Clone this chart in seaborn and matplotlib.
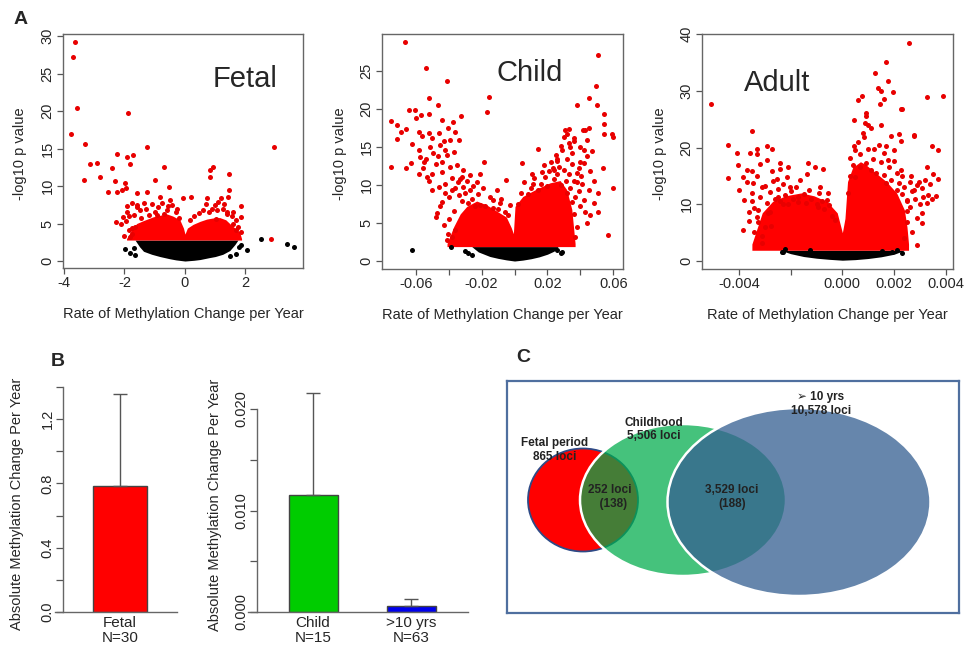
import matplotlib
matplotlib.use("Agg")
import matplotlib.pyplot as plt
import seaborn as sns
import numpy as np
import pandas as pd
from matplotlib.patches import Ellipse

sns.set_style("white")
plt.rcParams['font.family'] = ['Liberation Sans', 'DejaVu Sans']

# ---------------- DATA ----------------
# Panel A - Fetal
fetal_red_x = [-3.64, -3.71, -3.58, -3.76, -1.89, -3.29, -1.26, 2.95, -2.25, -1.92, -1.71, -3.14, -2.91, -1.80,
               -2.40, -0.68, 0.93, 0.83, -2.80, 0.83, 1.44, -3.32, -2.31, -0.99, -1.99, -0.53, 1.45, -2.53, -2.25,
               -2.07, -1.94, -1.59, -1.26, 0.20, -0.08, 1.43, 1.85, 0.72, 1.20, 1.00, 1.86, 1.85, 2.83, -2.28, -2.10,
               -1.76, -1.82, -1.76, -1.93, -1.59, -1.37, -0.83, -0.44, -0.60, -0.93, 1.03, 1.38, 1.59, 1.70,
               -1.90, -1.95, -1.85, -1.70, -1.60, -1.50, -1.45, -1.30, -1.20, -1.10, -1.00, -0.90, -0.75, -0.70,
               -0.55, -0.50, -0.30, -0.25, -0.20, 0.15, 0.30, 0.45, 0.60, 0.70, 0.80, 0.90, 1.05, 1.10, 1.25, 1.30,
               1.40, 1.55, 1.60, 1.70, 1.75, -1.75, -1.85, -2.00, -1.65, -2.05]
fetal_red_y = [29.2, 27.2, 20.4, 17.0, 19.7, 15.6, 15.2, 15.2, 14.3, 13.9, 14.1, 13.0, 13.1, 12.9,
               12.4, 12.6, 12.5, 12.1, 11.2, 11.2, 11.6, 10.8, 10.7, 10.8, 10.4, 9.9, 9.5, 9.2, 9.2,
               9.5, 9.7, 9.1, 9.2, 8.6, 8.4, 8.6, 7.4, 8.4, 8.4, 7.5, 5.9, 3.9, 3.0, 5.16, 5.0,
               4.35, 3.25, 7.7, 6.6, 7.2, 7.8, 8.6, 7.5, 6.8, 6.1, 5.6, 6.3, 5.0, 4.1,
               7.3, 5.4, 6.0, 6.2, 7.5, 6.8, 5.8, 7.0, 6.2, 7.6, 6.6, 7.2, 7.8, 6.3,
               7.3, 8.2, 6.5, 7.0, 5.8, 5.5, 6.0, 6.4, 6.8, 7.6, 6.5, 7.0, 6.8, 7.9, 6.9, 7.6,
               6.6, 6.0, 6.6, 5.5, 4.6, 3.6, 4.2, 3.4, 4.6, 5.9]
fetal_black_x = [2.51, 3.36, 3.61, -1.99, 2.04, -1.80, -1.70, -1.65, 1.80, 1.70, 1.50, 1.85]
fetal_black_y = [2.93, 2.27, 1.83, 1.64, 1.50, 1.10, 1.80, 0.80, 1.90, 1.00, 0.70, 2.20]
fetal_core_x = [-1.93, -1.75, -1.6, -1.37, -1.05, -0.83, -0.61, -0.4, -0.17, -0.05, 0.0, 0.08, 0.27, 0.5,
                0.72, 1.0, 1.15, 1.35, 1.48, 1.65, 1.81, 1.87]
fetal_core_top = [3.0, 4.2, 5.0, 5.4, 5.9, 6.1, 6.3, 6.0, 5.5, 4.4, 3.6, 4.4, 4.9, 5.3, 5.6, 5.8, 5.8, 5.5,
                  5.0, 4.4, 3.8, 3.0]
fetal_black_core_x = [-1.65, -1.5, -1.37, -1.1, -0.83, -0.5, -0.3, 0.0, 0.3, 0.5, 0.8, 1.0, 1.25, 1.48, 1.65, 1.75]
fetal_black_core_bottom = [2.8, 1.9, 1.3, 0.9, 0.6, 0.3, 0.15, 0.0, 0.1, 0.2, 0.45, 0.6, 0.9, 1.4, 2.2, 2.8]
fetal_threshold = 2.8

# Panel A - Child
child_red_x = [-0.0665, -0.0537, -0.0408, 0.0505, 0.0495, -0.0153, -0.0168, -0.0517, -0.0466, -0.0639, -0.0604,
               0.0452, 0.0499, 0.0378, -0.0325, -0.0568, -0.0519, -0.0750, -0.0715, -0.0660, -0.0371, 0.0545,
               0.0545, 0.0594, 0.0600, 0.0545, -0.0715, -0.0580, -0.0520, -0.0404, -0.0394, -0.0750, -0.0630,
               0.0141, 0.0044, 0.0540, 0.0600, 0.0509, 0.0566, -0.0503, -0.0473, -0.0477, -0.0413, -0.0403,
               -0.0362, -0.0210, -0.0186, -0.0052, 0.0104, 0.0164, 0.0236, 0.0260, 0.0418, 0.0438, 0.0398,
               0.0348, 0.0307, 0.0317, 0.0332, 0.0364, 0.0394, 0.0423, 0.0402, -0.0513, -0.0493, -0.0463,
               -0.0453, -0.0443, -0.0422, -0.0393, -0.0578, -0.0553, -0.0533, -0.0499, -0.0574, -0.0547,
               -0.0345, -0.0321, -0.0442, -0.0422, -0.0382, -0.0311, -0.0270, -0.0230, -0.0109, -0.0089,
               -0.0129, 0.0114, 0.0185, 0.0317, 0.0378, 0.0450, 0.0480, 0.0509, 0.0438, 0.0459,
               -0.052, -0.048, -0.046, -0.044, -0.042, -0.041, -0.040, -0.038, -0.037, -0.036, -0.035, -0.034,
               -0.033, -0.032, -0.031, -0.030, -0.029, -0.028, -0.027, -0.026, -0.025, -0.024, -0.022, -0.021,
               -0.019, -0.018, -0.015, -0.013, -0.010, -0.008, -0.006, -0.004, -0.003, -0.058, -0.056, -0.054,
               -0.050, -0.046, -0.044, -0.043, -0.036, -0.034, -0.062, -0.060, -0.066, -0.069, -0.045, -0.043,
               -0.040, -0.038, -0.037,
               0.002, 0.004, 0.006, 0.008, 0.010, 0.012, 0.014, 0.016, 0.018, 0.020, 0.021, 0.022, 0.024, 0.025,
               0.026, 0.027, 0.028, 0.029, 0.030, 0.031, 0.032, 0.033, 0.034, 0.035, 0.036, 0.037, 0.038, 0.039,
               0.040, 0.041, 0.042, 0.043, 0.044, 0.046, 0.047, 0.048, 0.038, 0.036, 0.037, 0.035, 0.040, 0.042,
               0.036, 0.034, 0.030, 0.028, 0.026, 0.024, 0.045, 0.043, 0.033]
child_red_y = [28.8, 25.4, 23.7, 27.2, 23.0, 21.6, 19.6, 21.5, 20.5, 19.9, 19.9,
               21.5, 20.6, 20.6, 19.1, 19.2, 19.4, 18.4, 17.9, 17.4, 18.3, 19.3,
               18.0, 16.7, 16.4, 16.7, 16.1, 17.0, 16.9, 17.5, 15.9, 12.4, 12.9,
               14.8, 12.85, 12.2, 9.65, 9.0, 3.4, 9.3, 6.3, 5.8, 2.75, 3.5,
               4.1, 11.5, 13.1, 10.7, 11.5, 11.7, 12.3, 13.4, 17.2, 15.9, 15.0,
               14.2, 17.2, 16.7, 15.6, 15.8, 12.3, 12.9, 11.2, 15.0, 14.2, 13.8,
               15.3, 13.1, 14.6, 12.4, 11.5, 12.2, 11.1, 11.5, 13.7, 13.0,
               10.4, 11.1, 7.8, 8.9, 9.3, 9.8, 9.3, 10.4, 9.3, 7.6,
               8.0, 10.2, 11.1, 9.0, 10.4, 9.3, 7.6, 6.5, 5.0, 6.1,
               10.5, 12.8, 9.8, 11.7, 10.2, 13.9, 8.4, 11.0, 14.4, 9.6, 12.6, 8.7,
               10.8, 7.9, 12.0, 9.0, 10.5, 7.6, 11.3, 8.2, 9.9, 7.3, 8.8, 7.4,
               9.6, 7.2, 8.4, 7.0, 6.8, 8.2, 6.5, 6.0, 7.4, 14.6, 16.5, 13.4,
               16.2, 16.8, 18.6, 15.8, 17.0, 16.0, 15.4, 18.8, 12.2, 17.0, 7.3, 4.8,
               5.6, 3.2, 6.6,
               7.5, 9.0, 10.4, 8.8, 9.6, 11.0, 9.4, 10.2, 12.6, 9.9, 11.8, 13.0, 10.8, 14.0,
               11.5, 12.4, 10.0, 14.6, 12.0, 10.5, 13.5, 11.4, 9.6, 12.8, 10.6, 8.4, 11.6, 9.2,
               7.2, 10.1, 8.0, 6.5, 13.8, 11.8, 14.5, 10.6, 4.5, 6.2, 3.1, 7.8, 13.0, 14.6,
               16.2, 15.0, 16.4, 15.2, 13.2, 12.0, 17.5, 17.2, 17.4]
child_black_x = [-0.0624, -0.0386, 0.0287, -0.030, -0.028, 0.028, 0.026, -0.026]
child_black_y = [1.45, 1.90, 1.20, 1.30, 1.00, 1.10, 1.50, 0.80]
child_core_x = [-0.041, -0.037, -0.033, -0.029, -0.023, -0.017, -0.011, -0.005, -0.002, -0.0007, 0.0003, 0.005,
                0.0135, 0.0216, 0.0277, 0.0317, 0.0348, 0.0368]
child_core_top = [2.3, 4.5, 6.2, 7.2, 7.9, 7.4, 6.6, 5.8, 4.4, 3.6, 7.2, 8.5, 9.5, 10.3, 10.6, 9.4, 6.8, 2.3]
child_black_core_x = [-0.026, -0.022, -0.015, -0.010, -0.005, 0.0, 0.005, 0.010, 0.015, 0.020, 0.024, 0.0265]
child_black_core_bottom = [1.9, 1.2, 0.6, 0.35, 0.15, 0.0, 0.12, 0.3, 0.55, 0.9, 1.3, 1.9]
child_threshold = 1.9

# Panel A - Adult
adult_red_x = [0.00256, 0.00169, 0.00127, 0.00177, 0.00138, 0.00151, 0.00194, 0.00075, 0.00327, 0.00389, -0.00508,
               0.00062, 0.00162, 0.00145, 0.00226, 0.00232, 0.00091, 0.00045, 0.00087, 0.00100, 0.00220, 0.00276,
               -0.00351, -0.00441, -0.00331, -0.00293, -0.00274, -0.00409, -0.00357, 0.00346, 0.00369, -0.00403,
               -0.00441, -0.00383, -0.00351, -0.00319, -0.00241, -0.00209, -0.00132, -0.00106, -0.00074, 0.00277,
               0.00327, 0.00369, 0.00361, 0.00346, 0.00311, 0.00327, 0.00307, 0.00288, 0.00249, -0.00383,
               -0.00325, -0.00309, -0.00276, -0.00287, -0.00325, -0.00351, -0.00344, -0.00312, -0.00274,
               -0.00254, -0.00215, -0.00202, -0.00164, -0.00138, -0.00086, -0.00054, -0.00060, -0.00093,
               -0.00171, -0.00248, -0.00228, 0.00226, 0.00177, 0.00226, 0.00264, 0.00297, 0.00276, 0.00250,
               0.00084, 0.00122, 0.00168, 0.00200, 0.00045,
               -0.0040, -0.0038, -0.0037, -0.0035, -0.0034, -0.0033, -0.0032, -0.0030, -0.0029, -0.0028, -0.0027,
               -0.0026, -0.0025, -0.0024, -0.0023, -0.0022, -0.0021, -0.0020, -0.0019, -0.0018, -0.0017, -0.0015,
               -0.0014, -0.0013, -0.0012, -0.0010, -0.0009, -0.0008, -0.0007, -0.0005, -0.0004, -0.0003, -0.0036,
               -0.0034, -0.0033, -0.0031, -0.0030, -0.0036, -0.0028, -0.0024, -0.0029, -0.0033, -0.0037,
               0.0002, 0.0003, 0.0004, 0.0005, 0.0005, 0.0006, 0.0007, 0.0007, 0.0008, 0.0009, 0.0010, 0.0011,
               0.0011, 0.0012, 0.0013, 0.0014, 0.0015, 0.0016, 0.0016, 0.0017, 0.0018, 0.0019, 0.0020, 0.0021,
               0.0021, 0.0022, 0.0023, 0.0023, 0.0024, 0.0025, 0.0026, 0.0026, 0.0027, 0.0028, 0.0029, 0.0030,
               0.0031, 0.0032, 0.0033, 0.0034, 0.0031, 0.0029, 0.0027, 0.0025, 0.0024, 0.0019, 0.0015, 0.0009,
               0.0003, 0.0035]
adult_red_y = [38.5, 35.1, 33.2, 31.7, 30.4, 29.9, 29.8, 29.0, 28.9, 29.0, 27.7,
               28.4, 28.5, 27.7, 26.8, 26.7, 26.1, 24.8, 24.3, 24.0, 22.4, 22.2,
               22.9, 20.4, 19.7, 20.2, 19.8, 19.1, 19.1, 20.3, 19.5, 16.9,
               14.6, 14.8, 15.8, 17.1, 17.2, 16.5, 17.2, 16.5, 16.2, 22.1,
               16.6, 14.4, 11.5, 11.0, 11.3, 10.2, 6.75, 2.8, 6.9, 5.46,
               6.9, 3.1, 6.2, 8.5, 9.0, 10.5, 13.7, 13.1, 15.9,
               14.5, 14.8, 13.1, 14.2, 15.4, 13.1, 12.0, 10.8, 9.6,
               11.3, 11.3, 10.1, 21.2, 17.8, 16.0, 14.9, 14.0, 12.6, 10.5,
               21.8, 19.8, 20.3, 19.5, 20.3,
               12.6, 10.8, 13.9, 12.0, 9.4, 15.0, 11.2, 13.3, 10.2, 12.2, 14.1,
               11.0, 12.7, 10.5, 13.6, 11.6, 10.0, 12.3, 11.0, 13.0, 10.4, 11.8,
               10.2, 12.5, 11.0, 10.0, 12.0, 10.6, 9.2, 9.8, 8.0, 7.2, 7.0,
               5.2, 7.8, 4.4, 6.0, 8.6, 8.6, 16.2, 17.8, 18.8, 16.0,
               12.0, 15.0, 17.0, 19.5, 14.8, 21.0, 16.5, 18.8, 22.5, 17.2, 19.8, 16.0,
               23.5, 18.0, 15.6, 20.5, 17.4, 15.2, 19.0, 13.8, 16.6, 14.2, 17.6, 12.6,
               15.6, 13.8, 11.8, 15.0, 13.0, 10.8, 14.0, 9.6, 12.4, 11.0, 13.4, 10.0,
               12.8, 14.2, 11.6, 13.6, 8.4, 7.6, 5.2, 8.8, 4.0, 22.0, 24.0, 25.5,
               18.2, 15.4]
adult_black_x = [-0.00234, -0.00221, -0.00124, 0.00191, 0.00210, 0.00230, 0.00152, -0.00228]
adult_black_y = [1.60, 2.15, 1.90, 1.60, 1.90, 1.40, 1.70, 1.53]
adult_core_x = [-0.0035, -0.0031, -0.0027, -0.0022, -0.0016, -0.0011, -0.0006, -0.0002, 0.0, 0.0001, 0.0002,
                0.0004, 0.0007, 0.0009, 0.0013, 0.0017, 0.0021, 0.0024, 0.0025, 0.00256]
adult_core_top = [3.0, 8.5, 10.5, 11.5, 12.0, 11.5, 10.5, 8.5, 5.0, 7.5, 14.0, 16.5, 17.5, 17.0, 15.5, 14.0,
                  12.0, 9.0, 6.0, 3.0]
adult_black_core_x = [-0.0024, -0.0020, -0.0015, -0.0010, -0.0005, 0.0, 0.0005, 0.0010, 0.0015, 0.0020, 0.0024]
adult_black_core_bottom = [1.9, 1.3, 0.8, 0.5, 0.3, 0.15, 0.25, 0.45, 0.75, 1.2, 1.9]
adult_threshold = 1.9

# Panel B
fetal_groups = ["Fetal\nN=30"]
fetal_means = [0.784]
fetal_sd = [0.574]
post_groups = ["Child\nN=15", ">10 yrs\nN=63"]
post_means = [0.01151, 0.0006]
post_sd = [0.0101, 0.00066]

# Panel C
venn_names = ["Fetal period", "Childhood", "\u27a2 10 yrs"]
venn_counts = [865, 5506, 10578]
overlap_counts = [252, 3529]
overlap_sub = [138, 188]

# ---------------- FIGURE ----------------
fig = plt.figure(figsize=(9.66, 6.48), dpi=100)


def px_axes(l, t, r, b):
    return fig.add_axes([l / 966, 1 - b / 648, (r - l) / 966, (b - t) / 648])


def volcano(ax, rx, ry, bx, by, cx, ctop, thr, bcx, bcbot, xlim, ylim, xticks, xlabels, yticks,
            title, title_xy, ylab_x):
    ax.fill_between(bcx, bcbot, thr, color="black", lw=0)
    ax.fill_between(cx, thr, ctop, color="#FF0000", lw=0)
    sns.scatterplot(x=bx, y=by, color="black", s=13, linewidth=0, ax=ax)
    sns.scatterplot(x=rx, y=ry, color="#E80000", s=13, linewidth=0, ax=ax)
    ax.set_xlim(*xlim)
    ax.set_ylim(*ylim)
    ax.set_xticks(xticks)
    ax.set_xticklabels(xlabels, fontsize=10.5)
    ax.set_yticks(yticks)
    ax.set_yticklabels([str(v) for v in yticks], fontsize=10.5, rotation=90, va="center")
    ax.tick_params(axis="both", direction="out", length=4, width=0.9, color="#555555", pad=2,
                   bottom=True, left=True)
    for s in ax.spines.values():
        s.set_color("#666666")
        s.set_linewidth(1.0)
    ax.set_xlabel("Rate of Methylation Change per Year", fontsize=10.5)
    ax.set_ylabel("-log10 p value", fontsize=10.5)
    ax.xaxis.set_label_coords(0.5, -0.165)
    ax.yaxis.set_label_coords(ylab_x, 0.49)
    ax.text(title_xy[0], title_xy[1], title, transform=ax.transAxes, fontsize=21,
            ha="center", va="center")


ax1 = px_axes(63, 34, 303, 268)
volcano(ax1, fetal_red_x, fetal_red_y, fetal_black_x, fetal_black_y, fetal_core_x, fetal_core_top,
        fetal_threshold, fetal_black_core_x, fetal_black_core_bottom,
        (-4.03, 3.9), (-0.93, 30.3), [-4, -2, 0, 2], ["-4", "-2", "0", "2"], [0, 5, 10, 15, 20, 25, 30],
        "Fetal", (0.758, 0.806), -0.15)

ax2 = px_axes(382, 34, 623, 269)
volcano(ax2, child_red_x, child_red_y, child_black_x, child_black_y, child_core_x, child_core_top,
        child_threshold, child_black_core_x, child_black_core_bottom,
        (-0.0805, 0.0659), (-1.05, 29.9), [-0.06, -0.04, -0.02, 0.0, 0.02, 0.04, 0.06],
        ["-0.06", "", "-0.02", "", "0.02", "", "0.06"], [0, 5, 10, 15, 20, 25],
        "Child", (0.614, 0.833), -0.145)

ax3 = px_axes(702, 34, 953, 269)
volcano(ax3, adult_red_x, adult_red_y, adult_black_x, adult_black_y, adult_core_x, adult_core_top,
        adult_threshold, adult_black_core_x, adult_black_core_bottom,
        (-0.00543, 0.00428), (-1.4, 40.0), [-0.004, -0.002, 0.0, 0.002, 0.004],
        ["-0.004", "", "0.000", "0.002", "0.004"], [0, 10, 20, 30, 40],
        "Adult", (0.299, 0.793), -0.14)


# Panel B
def barpanel(ax, groups, means, sds, colors, width, xlim, ylim, yticks, ylabels, spine_in, ylab_xy):
    df = pd.DataFrame({"group": groups, "mean": means})
    sns.barplot(data=df, x="group", y="mean", hue="group", palette=colors, legend=False, saturation=1,
                width=width, edgecolor="#444444", linewidth=1.0, ax=ax)
    ax.errorbar(range(len(groups)), means, yerr=[[0] * len(groups), sds], fmt="none",
                ecolor="#555555", elinewidth=1.0, capsize=5, capthick=1.0, clip_on=False)
    # spine position first (it resets tick settings)
    ax.spines["top"].set_visible(False)
    ax.spines["right"].set_visible(False)
    ax.spines["left"].set_position(("outward", -spine_in))
    ax.set_xlim(*xlim)
    ax.set_ylim(*ylim)
    ax.set_xticks(range(len(groups)))
    ax.set_xticklabels(groups, fontsize=11, linespacing=1.1)
    ax.set_yticks(yticks)
    ax.set_yticklabels(ylabels, fontsize=10.5, rotation=90, va="center")
    ax.tick_params(axis="y", direction="out", length=5, width=0.9, color="#555555", left=True, pad=1.2)
    ax.tick_params(axis="x", length=0, pad=3)
    ax.spines["left"].set_bounds(ylim[0], yticks[-1])
    for s in ("left", "bottom"):
        ax.spines[s].set_color("#666666")
        ax.spines[s].set_linewidth(1.0)
    ax.set_xlabel("")
    ax.set_ylabel("Absolute Methylation Change Per Year", fontsize=10.5)
    ax.yaxis.set_label_coords(*ylab_xy)
    ax.set_facecolor("none")


ax4 = px_axes(55, 387, 177, 612)
barpanel(ax4, fetal_groups, fetal_means, fetal_sd, ["#FF0000"], 0.8, (-0.963, 0.844), (0, 1.4),
         [0, 0.2, 0.4, 0.6, 0.8, 1.0, 1.2, 1.4], ["0.0", "", "0.4", "", "0.8", "", "1.2", ""], 5.8,
         (-0.25, 0.48))

ax5 = px_axes(248, 409, 468, 612)
barpanel(ax5, post_groups, post_means, post_sd, ["#00CC00", "#0000EE"], 0.5, (-0.663, 1.58), (0, 0.020),
         [0, 0.005, 0.010, 0.015, 0.020], ["0.000", "", "0.010", "", "0.020"], 6.5,
         (-0.12, 0.53))

# Panel C - Venn
ax6 = px_axes(507, 381, 959, 613)
ax6.set_xlim(507, 959)
ax6.set_ylim(613, 381)
ax6.set_xticks([])
ax6.set_yticks([])
for s in ax6.spines.values():
    s.set_color("#4F6F9F")
    s.set_linewidth(1.6)
ax6.add_patch(Ellipse((583, 500), 110, 103, facecolor="#FF0000", edgecolor="#2E4A86", lw=1.3))
ax6.add_patch(Ellipse((683, 500), 206, 152, facecolor="#00AC4C", alpha=0.73, edgecolor="none"))
ax6.add_patch(Ellipse((683, 500), 206, 152, facecolor="none", edgecolor="white", lw=1.8))
ax6.add_patch(Ellipse((799, 502), 263, 188, facecolor="#366092", alpha=0.76, edgecolor="none"))
ax6.add_patch(Ellipse((799, 502), 263, 188, facecolor="none", edgecolor="white", lw=1.8))

tkw = dict(fontsize=8.5, fontweight="bold", color="#222222", ha="center", va="center",
           linespacing=1.15)
ax6.text(555, 450, f"{venn_names[0]}\n{venn_counts[0]:,} loci", **tkw)
ax6.text(654, 429.5, f"{venn_names[1]}\n{venn_counts[1]:,} loci", **tkw)
ax6.text(821, 404, f"{venn_names[2]}\n{venn_counts[2]:,} loci", **tkw)
ax6.text(610, 497, f"{overlap_counts[0]} loci\n  ({overlap_sub[0]})", **tkw)
ax6.text(732, 497, f"{overlap_counts[1]:,} loci\n({overlap_sub[1]})", **tkw)

# Panel letters
for letter, (x, y) in {"A": (21, 20), "B": (58, 362), "C": (523, 357)}.items():
    fig.text(x / 966, 1 - y / 648, letter, fontsize=14, fontweight="bold", ha="center", va="center")

fig.savefig("out.png", dpi=100)
